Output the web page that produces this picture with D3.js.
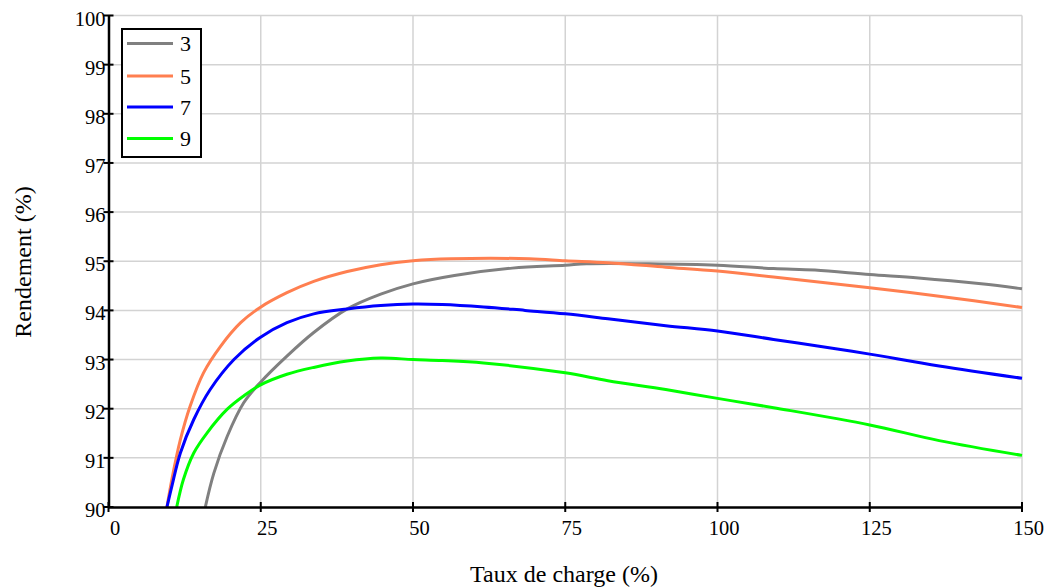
<!DOCTYPE html>
<html>
<head>
<meta charset="utf-8">
<script src="https://cdn.jsdelivr.net/npm/d3@7"></script>
<style>
  html, body { margin: 0; padding: 0; background: #ffffff; }
  svg { display: block; }
  text { font-family: "Liberation Serif", "DejaVu Serif", serif; fill: #000; }
</style>
</head>
<body>
<svg id="chart" width="1050" height="588"></svg>
<script>
// ---- Data ----
const seriesNames = ["3", "5", "7", "9"];
const seriesColors = ["#808080", "#ff7f50", "#0000ff", "#00ff00"];

const load3 = [15.9, 17.3, 19.5, 22.2, 24.9, 29.3, 33.7, 39.2, 44.7, 50, 56.8, 66.3, 75, 78.5, 88.7, 100, 109.2, 116, 125, 133, 143.3, 150];
const eff3  = [90, 90.69, 91.44, 92.12, 92.53, 93.07, 93.55, 94.03, 94.33, 94.54, 94.71, 94.86, 94.92, 94.95, 94.95, 94.92, 94.85, 94.82, 94.73, 94.66, 94.54, 94.44];

const load5 = [9.6, 10.4, 11.8, 13.4, 15.6, 18.4, 21.7, 24.9, 29.3, 33.7, 39.2, 44.7, 50, 56.2, 69.1, 75, 82, 91.5, 100, 109.2, 125, 136.4, 150];
const eff5  = [90, 90.56, 91.37, 92.05, 92.73, 93.27, 93.75, 94.06, 94.36, 94.59, 94.79, 94.93, 95.01, 95.05, 95.05, 95.01, 94.97, 94.88, 94.8, 94.68, 94.46, 94.29, 94.06];

const load7 = [9.6, 10.4, 11.8, 14.0, 16.7, 20.6, 24.9, 29.3, 33.7, 39.2, 44.7, 50, 54.8, 61.6, 68.4, 75, 82, 91.5, 100, 109.2, 119.4, 125, 136.4, 150];
const eff7  = [90, 90.42, 91.1, 91.78, 92.39, 93.0, 93.45, 93.75, 93.93, 94.03, 94.1, 94.13, 94.12, 94.07, 94.0, 93.93, 93.83, 93.69, 93.58, 93.41, 93.22, 93.11, 92.87, 92.62];

const load9 = [11.2, 12.3, 14.0, 16.2, 19.5, 22.2, 24.9, 29.3, 33.7, 39.2, 44.7, 50, 54.8, 61.6, 75, 82, 91.5, 100, 109.2, 125, 136.4, 150];
const eff9  = [90, 90.56, 91.1, 91.51, 91.99, 92.26, 92.48, 92.7, 92.84, 92.97, 93.03, 93.0, 92.98, 92.93, 92.73, 92.57, 92.39, 92.21, 92.02, 91.67, 91.35, 91.05];

const xTicks = [0, 25, 50, 75, 100, 125, 150];
const yTicks = [90, 91, 92, 93, 94, 95, 96, 97, 98, 99, 100];
const xTitle = "Taux de charge (%)";
const yTitle = "Rendement (%)";

// ---- Build ----
(function () {
const loads = [load3, load5, load7, load9];
const effs = [eff3, eff5, eff7, eff9];
const series = seriesNames.map((n, i) => ({
  name: n, color: seriesColors[i],
  values: loads[i].map((xv, j) => ({ x: xv, y: effs[i][j] }))
}));

const svg = d3.select("#chart");
const mLeft = 108.5, mRight = 1022, mTop = 15.5, mBottom = 507;

const x = d3.scaleLinear().domain([0, 150]).range([mLeft, mRight]);
const y = d3.scaleLinear().domain([90, 100]).range([mBottom, mTop]);

// Grid
const grid = svg.append("g").attr("stroke", "#d3d3d3").attr("stroke-width", 1.5);
grid.selectAll("line.v").data(xTicks.filter(d => d > 0)).join("line").attr("class", "v")
  .attr("x1", d => x(d)).attr("x2", d => x(d))
  .attr("y1", y(100)).attr("y2", y(90));
grid.selectAll("line.h").data(yTicks.filter(d => d > 90)).join("line").attr("class", "h")
  .attr("x1", x(0)).attr("x2", x(150))
  .attr("y1", d => y(d)).attr("y2", d => y(d));

// Curves
svg.append("clipPath").attr("id", "clip").append("rect")
  .attr("x", mLeft).attr("y", mTop - 2).attr("width", mRight - mLeft + 2).attr("height", mBottom - mTop + 2);

const line = d3.line().x(d => x(d.x)).y(d => y(d.y)).curve(d3.curveCatmullRom.alpha(0.5));
svg.append("g").attr("clip-path", "url(#clip)")
  .selectAll("path").data(series).join("path")
  .attr("fill", "none")
  .attr("stroke", d => d.color)
  .attr("stroke-width", 3)
  .attr("stroke-linejoin", "round")
  .attr("d", d => line(d.values));

// Axes
const gx = svg.append("g").attr("transform", `translate(0,${mBottom})`)
  .call(d3.axisBottom(x).tickValues(xTicks).tickSize(0).tickFormat(d3.format("d")));
gx.select(".domain").attr("stroke", "#000").attr("stroke-width", 2.5);
gx.selectAll(".tick line").remove();
gx.selectAll(".tick text")
  .attr("font-size", 20.5).attr("font-family", "Liberation Serif")
  .attr("dy", 0).attr("y", 28).attr("dx", 6).attr("fill", "#000");

const gy = svg.append("g").attr("transform", `translate(${mLeft},0)`)
  .call(d3.axisLeft(y).tickValues(yTicks).tickSize(0).tickFormat(d3.format("d")));
gy.select(".domain").attr("stroke", "#000").attr("stroke-width", 2.5);
gy.selectAll(".tick line").remove();
gy.selectAll(".tick text")
  .attr("font-size", 20.5).attr("font-family", "Liberation Serif")
  .attr("x", -3).attr("dy", 9.5).attr("fill", "#000");

// Tick marks crossing the axes
svg.append("g").selectAll("line").data(xTicks).join("line")
  .attr("x1", d => x(d)).attr("x2", d => x(d))
  .attr("y1", mBottom - 5).attr("y2", mBottom + 5)
  .attr("stroke", "#000").attr("stroke-width", 2);
svg.append("g").selectAll("line").data(yTicks).join("line")
  .attr("x1", mLeft - 5).attr("x2", mLeft + 5)
  .attr("y1", d => y(d)).attr("y2", d => y(d))
  .attr("stroke", "#000").attr("stroke-width", 2);

// Axis titles
svg.append("text").attr("x", 564).attr("y", 582)
  .attr("text-anchor", "middle").attr("font-size", 24).text(xTitle);
svg.append("text")
  .attr("transform", `translate(31,262) rotate(-90)`)
  .attr("text-anchor", "middle").attr("font-size", 24).text(yTitle);

// Legend
const lg = svg.append("g");
lg.append("rect").attr("x", 122).attr("y", 29).attr("width", 79).attr("height", 128)
  .attr("fill", "#fff").attr("stroke", "#000").attr("stroke-width", 2);
const legY = [43.5, 76, 107, 138.5];
const items = lg.selectAll("g.item").data(series).join("g").attr("class", "item")
  .attr("transform", (d, i) => `translate(0,${legY[i]})`);
items.append("line").attr("x1", 127).attr("x2", 173).attr("y1", 0).attr("y2", 0)
  .attr("stroke", d => d.color).attr("stroke-width", 3);
items.append("text").attr("x", 180).attr("y", 0).attr("dy", 7.5)
  .attr("font-size", 22).text(d => d.name);
})();
</script>
</body>
</html>
